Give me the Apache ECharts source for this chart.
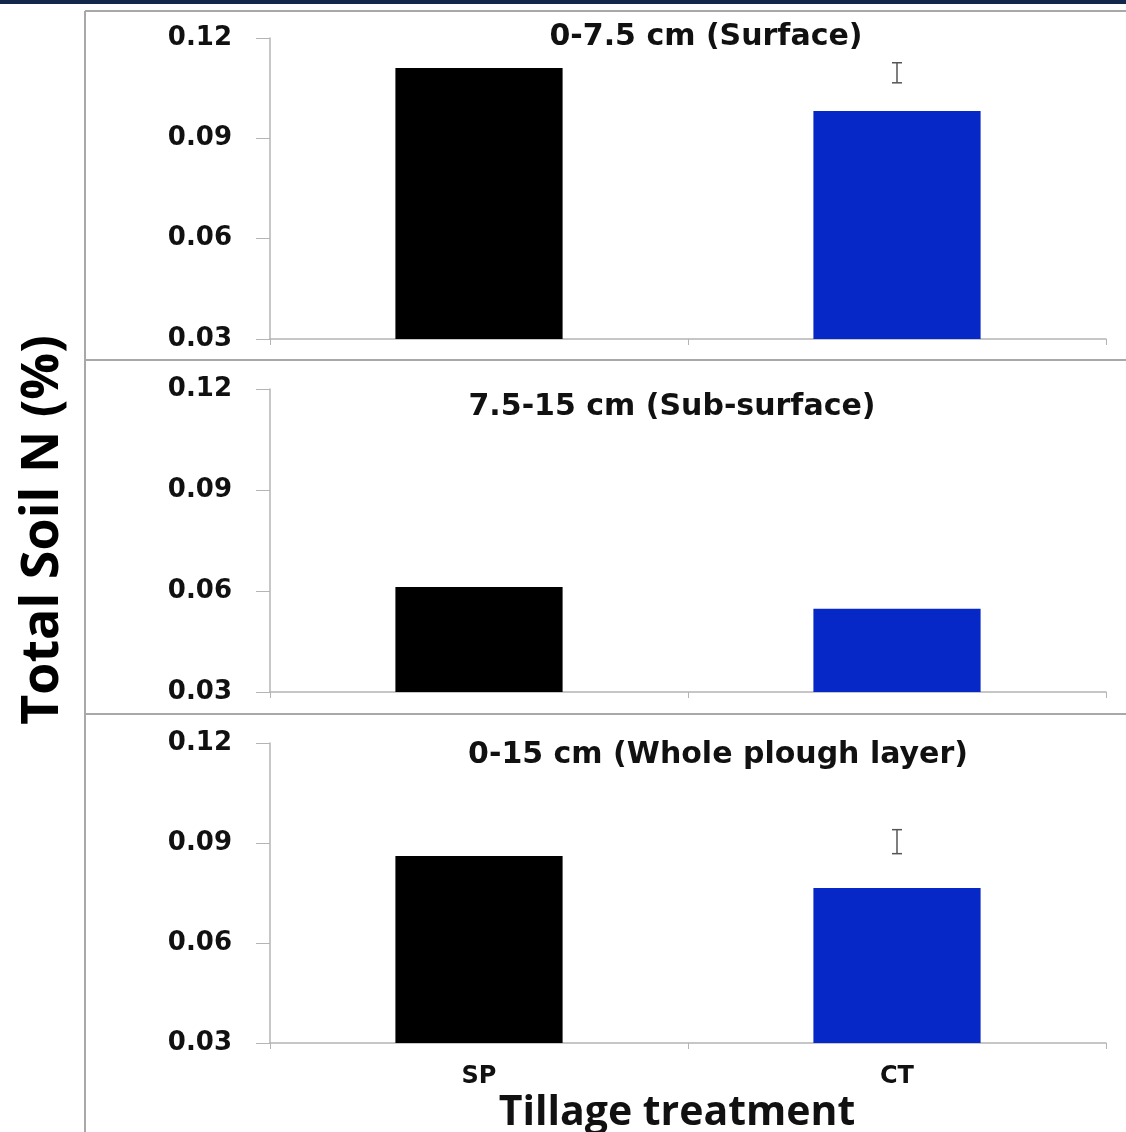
<!DOCTYPE html>
<html>
<head>
<meta charset="utf-8">
<script src="https://cdn.jsdelivr.net/npm/echarts@6/dist/echarts.min.js"></script>
<style>
  html, body { margin: 0; padding: 0; background: #ffffff; }
  #chart { width: 1126px; height: 1132px; }
</style>
</head>
<body>
<div id="chart"></div>
<script>
// Tillage treatments on the category axis
const treatments = ['SP', 'CT'];

// Total soil N (%) by depth layer
const surfaceN = [0.111, 0.0982];      // 0-7.5 cm
const subSurfaceN = [0.0612, 0.0547];  // 7.5-15 cm
const wholeLayerN = [0.0861, 0.0765];  // 0-15 cm

// Error bars drawn for CT: [category, low, high]
const surfaceErr = [['CT', 0.1066, 0.1126]];
const wholeLayerErr = [['CT', 0.0868, 0.0940]];

// Depth-layer headings
const panelTitles = ['0-7.5 cm (Surface)', '7.5-15 cm (Sub-surface)', '0-15 cm (Whole plough layer)'];

// Value axis ticks
const yMin = 0.03, yMax = 0.12, yStep = 0.03;

const barColors = ['#000000', '#0528c6'];
const axisGray = '#b4b4b4';
const tickFont = 'DejaVu Sans';

const grids = [
  { left: 270, right: 20, top: 38, height: 301 },
  { left: 270, right: 20, top: 389, height: 303 },
  { left: 270, right: 20, top: 743, height: 300 }
];

function xAxisFor(i, showLabels) {
  return {
    type: 'category', gridIndex: i, data: treatments,
    axisLine: { show: true, lineStyle: { color: axisGray, width: 1.5 } },
    axisTick: { show: true, alignWithLabel: false, length: 6, lineStyle: { color: axisGray } },
    axisLabel: {
      show: showLabels, margin: 22, color: '#111',
      fontFamily: tickFont, fontWeight: 'bold', fontSize: 24
    },
    splitLine: { show: false }
  };
}

function yAxisFor(i) {
  return {
    type: 'value', gridIndex: i, min: yMin, max: yMax, interval: yStep,
    axisLine: { show: true, lineStyle: { color: axisGray, width: 1.5 } },
    axisTick: { show: true, length: 14, lineStyle: { color: axisGray } },
    axisLabel: {
      margin: 38, color: '#111', fontFamily: tickFont, fontWeight: 'bold', fontSize: 26,
      formatter: v => v.toFixed(2)
    },
    splitLine: { show: false }
  };
}

function barSeries(i, values) {
  return {
    type: 'bar', xAxisIndex: i, yAxisIndex: i, barWidth: '40%',
    data: values.map((v, k) => ({ value: v, itemStyle: { color: barColors[k] } }))
  };
}

function errSeries(i, rows) {
  return {
    type: 'custom', xAxisIndex: i, yAxisIndex: i,
    encode: { x: 0, y: [1, 2] },
    data: rows,
    renderItem: function (params, api) {
      const lo = api.coord([api.value(0), api.value(1)]);
      const hi = api.coord([api.value(0), api.value(2)]);
      const half = 5;
      const style = { stroke: '#555', lineWidth: 1.5 };
      return {
        type: 'group',
        children: [
          { type: 'line', shape: { x1: hi[0], y1: hi[1], x2: lo[0], y2: lo[1] }, style },
          { type: 'line', shape: { x1: hi[0] - half, y1: hi[1], x2: hi[0] + half, y2: hi[1] }, style },
          { type: 'line', shape: { x1: lo[0] - half, y1: lo[1], x2: lo[0] + half, y2: lo[1] }, style }
        ]
      };
    }
  };
}

const titleSpots = [
  { x: 701, y: 17 },
  { x: 667, y: 387 },
  { x: 713, y: 735 }
];

const frameGray = '#a8a8a8';

const option = {
  backgroundColor: '#ffffff',
  animation: false,
  title: panelTitles.map((t, i) => ({
    text: t, left: titleSpots[i].x, top: titleSpots[i].y, textAlign: 'center',
    textStyle: { fontFamily: tickFont, fontWeight: 'bold', fontSize: 30, color: '#111' }
  })),
  grid: grids,
  xAxis: [xAxisFor(0, false), xAxisFor(1, false), xAxisFor(2, true)],
  yAxis: [yAxisFor(0), yAxisFor(1), yAxisFor(2)],
  series: [
    barSeries(0, surfaceN),
    barSeries(1, subSurfaceN),
    barSeries(2, wholeLayerN),
    errSeries(0, surfaceErr),
    errSeries(2, wholeLayerErr)
  ],
  graphic: [
    // header band
    { type: 'rect', left: 0, top: 0, shape: { width: 1126, height: 4 }, style: { fill: '#12284a' } },
    // panel frame and separators
    { type: 'line', shape: { x1: 85, y1: 11, x2: 85, y2: 1132 }, style: { stroke: frameGray, lineWidth: 2 } },
    { type: 'line', shape: { x1: 85, y1: 11, x2: 1126, y2: 11 }, style: { stroke: frameGray, lineWidth: 2 } },
    { type: 'line', shape: { x1: 85, y1: 360, x2: 1126, y2: 360 }, style: { stroke: frameGray, lineWidth: 2 } },
    { type: 'line', shape: { x1: 85, y1: 714, x2: 1126, y2: 714 }, style: { stroke: frameGray, lineWidth: 2 } },
    // axis titles
    {
      type: 'text', x: 43, y: 530, rotation: Math.PI / 2,
      style: {
        text: 'Total Soil N (%)', fill: '#000', font: 'bold 52px "Open Sans"',
        textAlign: 'center', textVerticalAlign: 'middle'
      }
    },
    {
      type: 'text', x: 677, y: 1113,
      style: {
        text: 'Tillage treatment', fill: '#111', font: 'bold 41px "Open Sans"',
        textAlign: 'center', textVerticalAlign: 'middle'
      }
    }
  ]
};

const chart = echarts.init(document.getElementById('chart'), null, { renderer: 'canvas' });
chart.setOption(option);
</script>
</body>
</html>
